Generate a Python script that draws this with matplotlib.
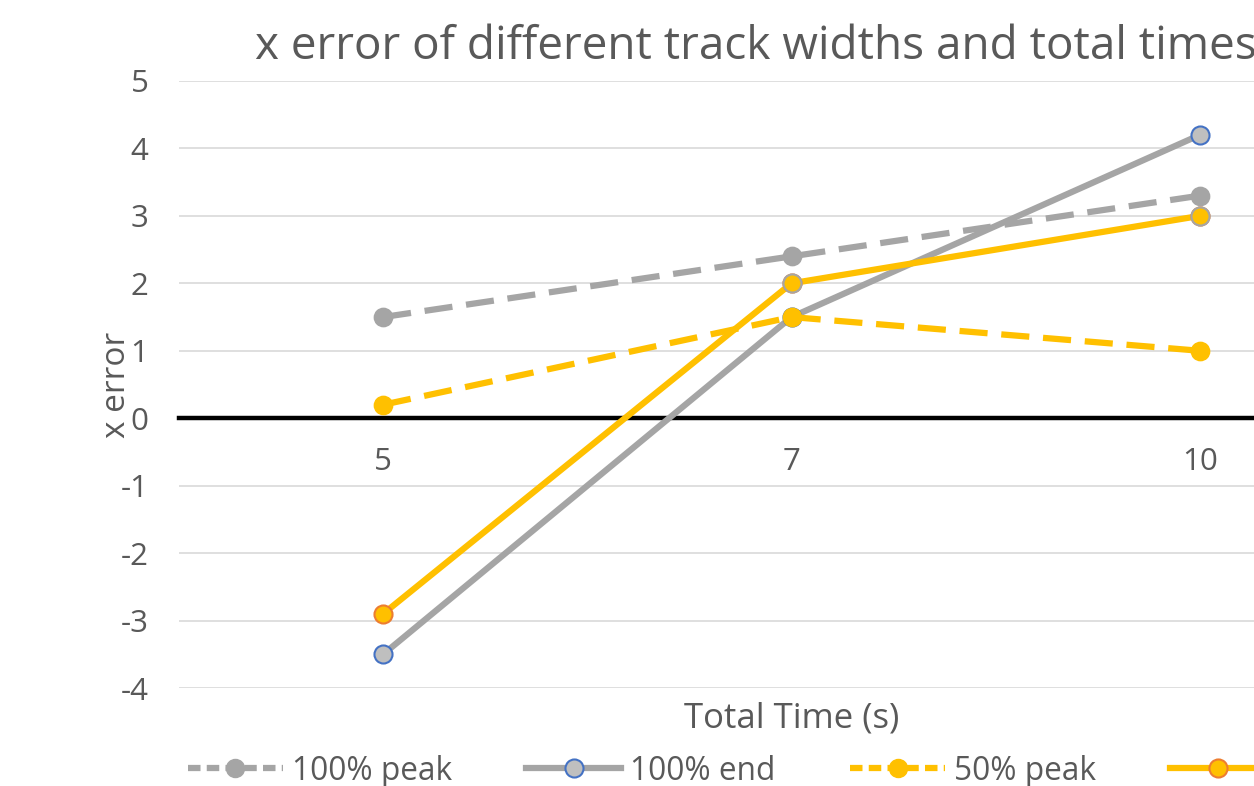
import matplotlib
matplotlib.use("Agg")
import matplotlib.pyplot as plt
from matplotlib.lines import Line2D

plt.rcParams['font.family'] = ['Open Sans', 'DejaVu Sans']

# Data
total_times = ["5", "7", "10"]
peak_100 = [1.5, 2.4, 3.3]
end_100 = [-3.5, 1.5, 4.2]
peak_50 = [0.2, 1.5, 1.0]
end_50 = [-2.9, 2.0, 3.0]
y_ticks = [-4, -3, -2, -1, 0, 1, 2, 3, 4, 5]

GRAY = "#A5A5A5"
LIGHT_GRAY = "#BFBFBF"
YELLOW = "#FFC000"
BLUE = "#4472C4"
ORANGE = "#ED7D31"
TEXT = "#595959"

W, H = 1254, 786
fig = plt.figure(figsize=(W / 100, H / 100), dpi=100)
left, right, top, bottom = 179, 1404, 81, 688
ax = fig.add_axes([left / W, 1 - bottom / H, (right - left) / W, (bottom - top) / H])

x = list(range(len(total_times)))
lw = 4.5
ms = 13
dash = (4.5, 2.2)

ax.plot(x, peak_100, color=GRAY, lw=lw, dashes=dash, marker='o', ms=ms,
        mfc=GRAY, mec=GRAY, mew=1.2, label="100% peak", zorder=3)
ax.plot(x, end_100, color=GRAY, lw=lw, marker='o', ms=ms,
        mfc=LIGHT_GRAY, mec=BLUE, mew=1.5, label="100% end", zorder=4)
ax.plot(x, peak_50, color=YELLOW, lw=lw, dashes=dash, marker='o', ms=ms,
        mfc=YELLOW, mec=YELLOW, mew=1.2, label="50% peak", zorder=5)
ax.plot(x, end_50, color=YELLOW, lw=lw, marker='o', ms=ms,
        mfc=YELLOW, mec=ORANGE, mew=1.5, label="50% end", zorder=6)
# later points of the 50% end series carry a grey outline
ax.plot(x[1:], end_50[1:], ls='none', marker='o', ms=ms,
        mfc=YELLOW, mec=GRAY, mew=1.5, zorder=7)

ax.set_xlim(-0.5, len(total_times) - 0.5)
ax.set_ylim(-4, 5)
ax.set_xticks(x)
ax.set_xticklabels(total_times)
ax.set_yticks(y_ticks)
ax.set_yticklabels([str(v) for v in y_ticks])

ax.grid(axis='y', color="#D9D9D9", lw=1.2, zorder=0)
for s in ['top', 'right', 'left']:
    ax.spines[s].set_visible(False)
ax.spines['bottom'].set_position(('data', 0))
ax.spines['bottom'].set_color('black')
ax.spines['bottom'].set_linewidth(3.2)
ax.spines['bottom'].set_zorder(2)

ax.tick_params(axis='both', length=0, colors=TEXT, labelsize=22.5)
ax.tick_params(axis='y', pad=22)
ax.tick_params(axis='x', pad=21)

ax.text(0.5, -0.05, "Total Time (s)", transform=ax.transAxes, ha='center',
        va='center', fontsize=25, color=TEXT)
fig.text(116 / W, 1 - 385 / H, "x error", rotation=90, ha='center',
         va='center', fontsize=24, color=TEXT)
fig.text(255 / W, 1 - 47 / H, "x error of different track widths and total times",
         ha='left', va='center', fontsize=33, color=TEXT)

handles = [
    Line2D([], [], color=GRAY, lw=lw, dashes=(2, 1), marker='o', ms=ms, mfc=GRAY, mec=GRAY),
    Line2D([], [], color=GRAY, lw=lw, marker='o', ms=ms, mfc=LIGHT_GRAY, mec=BLUE, mew=1.5),
    Line2D([], [], color=YELLOW, lw=lw, dashes=(2, 1), marker='o', ms=ms, mfc=YELLOW, mec=YELLOW),
    Line2D([], [], color=YELLOW, lw=lw, marker='o', ms=ms, mfc=YELLOW, mec=ORANGE, mew=1.5),
]
labels = ["100% peak", "100% end", "50% peak", "50% end"]
fig.legend(handles, labels, loc='center left', bbox_to_anchor=(188 / W, 1 - 771 / H),
           ncol=4, frameon=False, fontsize=22.8, labelcolor=TEXT,
           handlelength=3.0, handletextpad=0.28, columnspacing=2.35,
           borderpad=0, borderaxespad=0)

fig.savefig("out.png", dpi=100)
